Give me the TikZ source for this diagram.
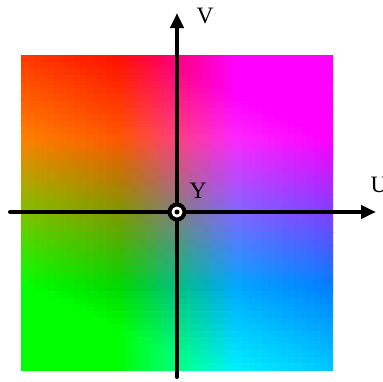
\documentclass[tikz,border=0pt]{standalone}
\usepackage{fontspec}
\setmainfont{Liberation Serif}
\usetikzlibrary{arrows.meta}
\tikzset{
  axisline/.style={line width=4pt, line cap=round, -{Triangle[length=15pt,width=13pt]}},
  lbl/.style={font=\fontsize{23.5}{24}\selectfont, inner sep=0pt}
}
\begin{document}
\begin{tikzpicture}[x=1pt,y=-1pt]
\useasboundingbox (0,0) rectangle (383,381);
\fill[white] (0,0) rectangle (383,381);
\begin{scope}
\clip (21,55) rectangle (333,370);
\foreach \i in {0,...,47}{
  \foreach \j in {0,...,47}{
    \pgfmathsetmacro{\myU}{1.5*((\i+0.5)/48*0.872-0.436)}
    \pgfmathsetmacro{\myV}{1.5*(0.615-(\j+0.5)/48*1.23)}
    \pgfmathsetmacro{\cR}{min(1,max(0,0.5+1.14*\myV))}
    \pgfmathsetmacro{\cG}{min(1,max(0,0.5-0.395*\myU-0.581*\myV))}
    \pgfmathsetmacro{\cB}{min(1,max(0,0.5+2.032*\myU))}
    \definecolor{cc}{rgb}{\cR,\cG,\cB}
    \fill[cc] ({21+\i*6.5},{55+\j*6.5625}) rectangle ++(7.2,7.2);
  }
}
\end{scope}
\coordinate (vb) at (177,377);
\coordinate (vt) at (177,13);
\coordinate (hl) at (10,212);
\coordinate (hr) at (376,212);
\draw[axisline] (vb) -- (vt);
\draw[axisline] (hl) -- (hr);
\node[circle, fill=black, minimum size=19pt, inner sep=0pt] (o) at (177,212) {};
\node[circle, fill=white, minimum size=11pt, inner sep=0pt] (oi) at (o) {};
\node[circle, fill=black, minimum size=5pt, inner sep=0pt] (oc) at (o) {};
\node[lbl] (V) at (205,16) {V};
\node[lbl] (Y) at (198,191) {Y};
\node[lbl] (U) at (379,185) {U};
\end{tikzpicture}
\end{document}
